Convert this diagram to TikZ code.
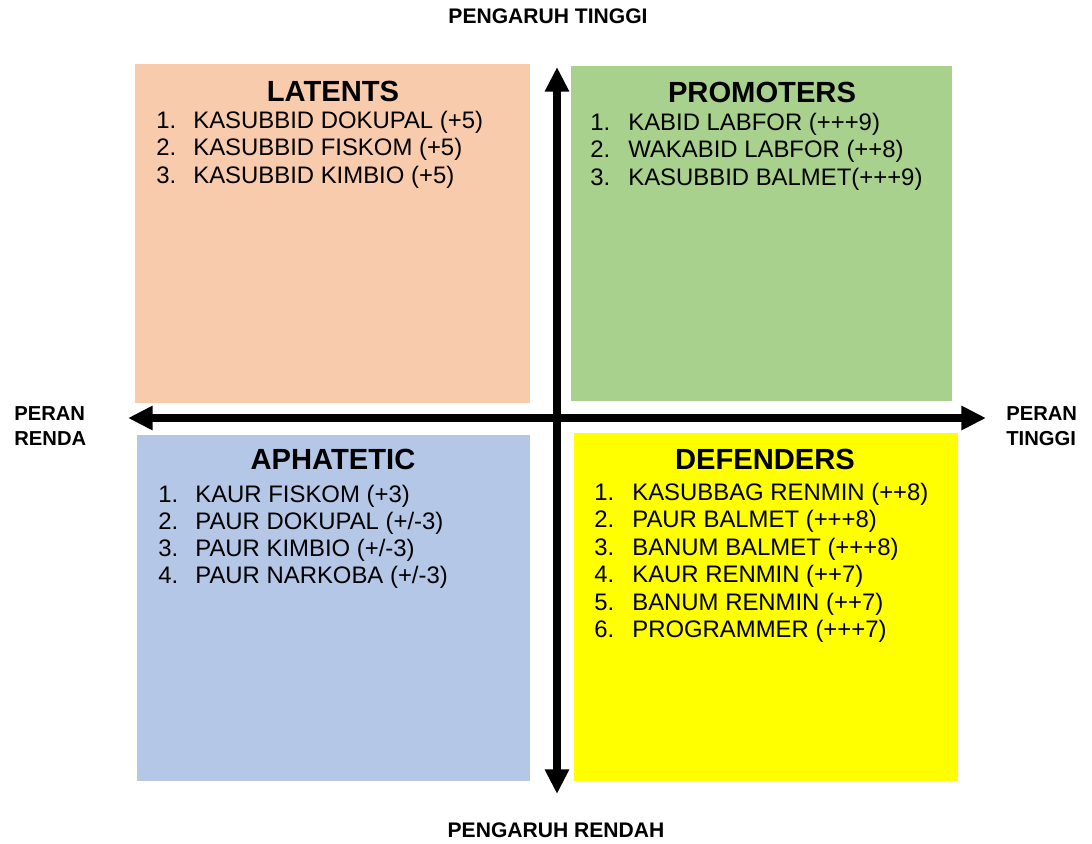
\documentclass[tikz,border=0pt]{standalone}
\usepackage{fontspec}
\setmainfont{Liberation Sans}
\usepackage{tikz}
\usetikzlibrary{arrows.meta}

\definecolor{latentcol}{HTML}{F8CBAD}
\definecolor{promotercol}{HTML}{A9D18E}
\definecolor{apathycol}{HTML}{B4C7E7}
\definecolor{defendercol}{HTML}{FFFF00}

\begin{document}
\begin{tikzpicture}[x=0.02cm,y=-0.02cm,
  title/.style={anchor=base,inner sep=0pt,font=\fontsize{16.6}{19}\selectfont\bfseries},
  item/.style={anchor=base west,inner sep=0pt,font=\fontsize{13.6}{16}\selectfont},
  axislabel/.style={anchor=base west,inner sep=0pt,align=left,font=\fontsize{11.5}{14}\selectfont\bfseries},
  axis/.style={line width=0.16cm,{Triangle[width=13pt,length=14pt]}-{Triangle[width=13pt,length=14pt]}}]
\useasboundingbox (0,0) rectangle (1092,843);
% quadrants
\fill[latentcol] (135,64) rectangle (530,403);
\fill[promotercol] (571,66) rectangle (952,401);
\fill[apathycol] (137,435) rectangle (530,781);
\fill[defendercol] (574,433) rectangle (958,781);
% axes
\coordinate (west) at (128,418);
\coordinate (east) at (986,418);
\coordinate (north) at (557,67);
\coordinate (south) at (557,794);
\draw[axis] (west) -- (east);
\draw[axis] (north) -- (south);
% axis labels
\node[axislabel,anchor=base,font=\fontsize{12}{14}\selectfont\bfseries] (high) at (548,23) {PENGARUH TINGGI};
\node[axislabel,anchor=base,font=\fontsize{12}{14}\selectfont\bfseries] (low) at (556,837) {PENGARUH RENDAH};
\node[axislabel] (lowrole) at (14,420) {PERAN};
\node[axislabel] (lowrole2) at (14,445) {RENDA};
\node[axislabel] (highrole) at (1006,420) {PERAN};
\node[axislabel] (highrole2) at (1006,445) {TINGGI};
% latents
\node[title] (lattitle) at (333,101) {LATENTS};
\foreach \t [count=\i] in {KASUBBID DOKUPAL (+5),KASUBBID FISKOM (+5),KASUBBID KIMBIO (+5)}{
  \node[item] (latnum\i) at (156,{128+27.5*(\i-1)}) {\i.};
  \node[item] (lat\i) at (193,{128+27.5*(\i-1)}) {\t};
}
% promoters
\node[title] (protitle) at (762,102) {PROMOTERS};
\foreach \t [count=\i] in {KABID LABFOR (+++9),WAKABID LABFOR (++8),KASUBBID BALMET(+++9)}{
  \node[item] (pronum\i) at (590,{130+27.5*(\i-1)}) {\i.};
  \node[item] (pro\i) at (628,{130+27.5*(\i-1)}) {\t};
}
% aphatetic
\node[title] (aphtitle) at (333,469) {APHATETIC};
\foreach \t [count=\i] in {KAUR FISKOM (+3),PAUR DOKUPAL (+/-3),PAUR KIMBIO (+/-3),PAUR NARKOBA (+/-3)}{
  \node[item] (aphnum\i) at (158,{502+27*(\i-1)}) {\i.};
  \node[item] (aph\i) at (195,{502+27*(\i-1)}) {\t};
}
% defenders
\node[title] (deftitle) at (765,469) {DEFENDERS};
\foreach \t [count=\i] in {KASUBBAG RENMIN (++8),PAUR BALMET (+++8),BANUM BALMET (+++8),KAUR RENMIN (++7),BANUM RENMIN (++7),PROGRAMMER (+++7)}{
  \node[item] (defnum\i) at (594,{500+27.5*(\i-1)}) {\i.};
  \node[item] (def\i) at (632,{500+27.5*(\i-1)}) {\t};
}
\end{tikzpicture}
\end{document}
